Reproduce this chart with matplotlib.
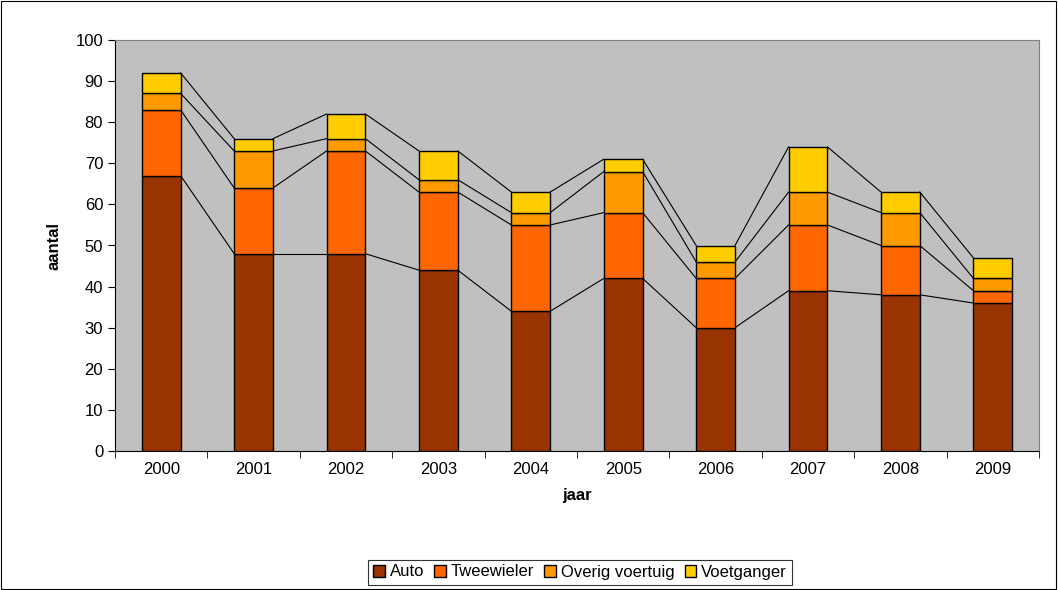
import numpy as np
import matplotlib.pyplot as plt
from matplotlib.patches import Rectangle

plt.rcParams['font.family'] = ['Liberation Sans', 'DejaVu Sans']

years = ["2000", "2001", "2002", "2003", "2004", "2005", "2006", "2007", "2008", "2009"]
auto = [67, 48, 48, 44, 34, 42, 30, 39, 38, 36]
tweewieler = [16, 16, 25, 19, 21, 16, 12, 16, 12, 3]
overig = [4, 9, 3, 3, 3, 10, 4, 8, 8, 3]
voetganger = [5, 3, 6, 7, 5, 3, 4, 11, 5, 5]

series = [("Auto", auto, "#993300"), ("Tweewieler", tweewieler, "#FF6600"),
          ("Overig voertuig", overig, "#FF9900"), ("Voetganger", voetganger, "#FFCC00")]

fig = plt.figure(figsize=(10.58, 5.90), dpi=100)
fig.patches.append(Rectangle((0.001, 0.001), 0.997, 0.997, transform=fig.transFigure,
                             fill=False, edgecolor="black", linewidth=0.8))
ax = fig.add_axes([115/1058, 1 - 451/590, (1039-115)/1058, (451-40)/590])
ax.set_facecolor("#C0C0C0")

x = np.arange(len(years))
w = 0.42
bottom = np.zeros(len(years))
for name, vals, col in series:
    vals = np.array(vals)
    ax.bar(x, vals, w, bottom=bottom, color=col, edgecolor="black", linewidth=1, label=name, zorder=3)
    bottom = bottom + vals
    # series lines
    for i in range(len(years) - 1):
        ax.plot([x[i] + w/2, x[i+1] - w/2], [bottom[i], bottom[i+1]], color="black", linewidth=0.8, zorder=2)

ax.set_xlim(-0.5, len(years) - 0.5)
ax.set_ylim(0, 100)
ax.set_yticks(range(0, 101, 10))
ax.set_xticks(x)
ax.set_xticklabels(years)
ax.set_xticks(np.arange(-0.5, len(years)), minor=True)
ax.tick_params(axis="x", which="major", length=0, labelsize=12, pad=8)
ax.tick_params(axis="x", which="minor", length=5, direction="out")
ax.tick_params(axis="y", labelsize=12, length=5)
for s in ["top", "right"]:
    ax.spines[s].set_color("#808080")
ax.set_xlabel("jaar", fontsize=12, fontweight="bold", labelpad=8)
ax.set_ylabel("aantal", fontsize=12, fontweight="bold", labelpad=10)

leg = fig.legend(loc="center", bbox_to_anchor=(580/1058, 1 - 572/590), ncol=4, fontsize=12,
                 frameon=True, fancybox=False, edgecolor="black", handlelength=0.7,
                 handletextpad=0.3, columnspacing=0.6, borderpad=0.3)
leg.get_frame().set_linewidth(0.8)

fig.savefig("out.png", dpi=100)
